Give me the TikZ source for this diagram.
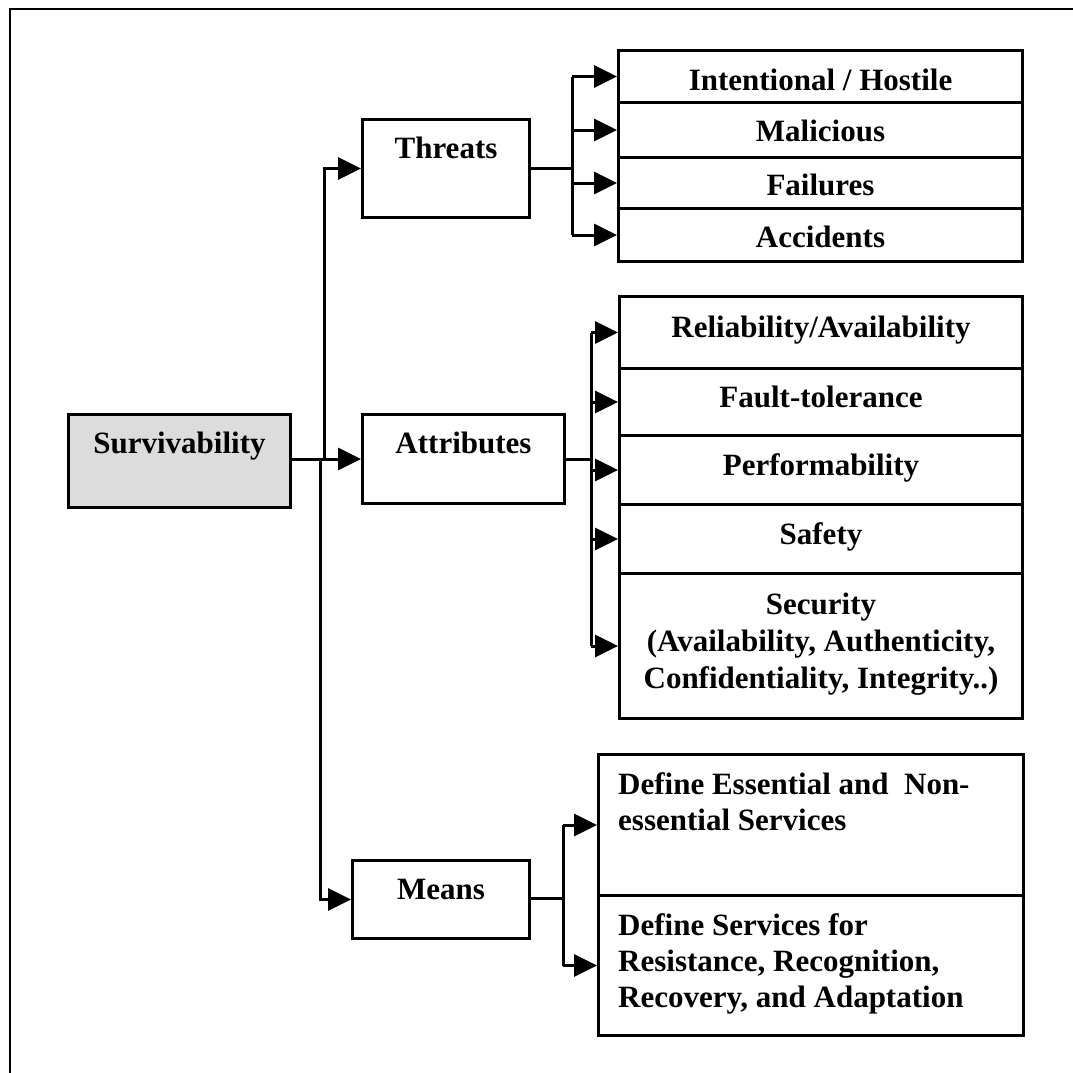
\documentclass[tikz,border=0pt]{standalone}
\usepackage{fontspec}
\setmainfont{Liberation Serif}
\usetikzlibrary{arrows.meta,calc}
\definecolor{rootfill}{RGB}{220,220,220}
\begin{document}
\begin{tikzpicture}[x=1pt,y=-1pt,
  box/.style={draw=black, line width=3pt, inner sep=0pt, anchor=north west},
  lbl/.style={inner sep=0pt, anchor=base, align=center,
    font=\fontsize{31}{37}\selectfont\bfseries},
  lblleft/.style={inner sep=0pt, anchor=base west, align=left,
    font=\fontsize{31}{36}\selectfont\bfseries},
  link/.style={line width=3pt},
  arr/.style={line width=3pt, -{Triangle[length=23pt,width=22pt]}},
]
\useasboundingbox (0,0) rectangle (1072,1073);

% frame (only top and left edges fall inside the page)
\draw[line width=2pt] (9.5,1080) -- (9.5,9.5) -- (1080,9.5);

% root and first level
\node[box, fill=rootfill, minimum width=222pt, minimum height=93pt] (surv) at (67,413) {};
\node[lbl] (survT) at ($(surv.north)+(0,40)$) {Survivability};

\node[box, minimum width=167pt, minimum height=98pt] (threats) at (361,118) {};
\node[lbl] (threatsT) at ($(threats.north)+(0,40)$) {Threats};

\node[box, minimum width=202pt, minimum height=89pt] (attrs) at (361,413) {};
\node[lbl] (attrsT) at ($(attrs.north)+(0,40)$) {Attributes};

\node[box, minimum width=177pt, minimum height=78pt] (means) at (351,859) {};
\node[lbl] (meansT) at ($(means.north)+(0,40)$) {Means};

% threats
\node[box, minimum width=404pt, minimum height=52pt] (t1) at (617,49) {};
\node[box, minimum width=404pt, minimum height=55pt] (t2) at (617,101) {};
\node[box, minimum width=404pt, minimum height=51pt] (t3) at (617,156) {};
\node[box, minimum width=404pt, minimum height=53pt] (t4) at (617,207) {};
\node[lbl] (t1T) at ($(t1.north)+(0,41)$) {Intentional / Hostile};
\node[lbl] (t2T) at ($(t2.north)+(0,40)$) {Malicious};
\node[lbl] (t3T) at ($(t3.north)+(0,39)$) {Failures};
\node[lbl] (t4T) at ($(t4.north)+(0,40)$) {Accidents};

% attributes
\node[box, minimum width=403pt, minimum height=72pt] (a1) at (618,295) {};
\node[box, minimum width=403pt, minimum height=67pt] (a2) at (618,367) {};
\node[box, minimum width=403pt, minimum height=69pt] (a3) at (618,434) {};
\node[box, minimum width=403pt, minimum height=69pt] (a4) at (618,503) {};
\node[box, minimum width=403pt, minimum height=145pt] (a5) at (618,572) {};
\node[lbl] (a1T) at ($(a1.north)+(0,42)$) {Reliability/Availability};
\node[lbl] (a2T) at ($(a2.north)+(0,40)$) {Fault-tolerance};
\node[lbl] (a3T) at ($(a3.north)+(0,41)$) {Performability};
\node[lbl] (a4T) at ($(a4.north)+(0,41)$) {Safety};
% multi-line labels sit on the baseline of their last line
\node[lbl] (a5T) at ($(a5.north)+(0,116)$) {Security\\(Availability, Authenticity,\\Confidentiality, Integrity..)};

% means
\node[box, minimum width=425pt, minimum height=141pt] (m1) at (597,753) {};
\node[box, minimum width=425pt, minimum height=140pt] (m2) at (597,894) {};
\node[lblleft] (m1T) at ($(m1.north west)+(21,77)$) {Define Essential and\ \ Non-\\essential Services};
\node[lblleft] (m2T) at ($(m2.north west)+(21,113)$) {Define Services for\\Resistance, Recognition,\\Recovery, and Adaptation};

% root connectors
\coordinate (j0) at (324,459);
\coordinate (j0low) at (320,459);
\draw[link] (surv.east |- j0) -- (j0);
\draw[arr] (j0) -- (attrs.west |- j0);
\draw[arr] (j0) |- (threats.west);
\draw[arr] (j0low) |- (means.west);

% threat connectors
\coordinate (jt) at (572,168);
\draw[link] (threats.east |- jt) -- (jt);
\draw[link] (jt |- t1.west) -- (jt |- t4.west);
\foreach \n in {t1,t2,t3,t4} \draw[arr] (jt |- \n.west) -- (\n.west);

% attribute connectors
\coordinate (ja) at (591,459);
\draw[link] (attrs.east |- ja) -- (ja);
\draw[link] (ja |- a1.west) -- (ja |- a5.west);
\foreach \n in {a1,a2,a3,a4,a5} \draw[arr] (ja |- \n.west) -- (\n.west);

% means connectors
\coordinate (jm) at (563,898);
\draw[link] (means.east |- jm) -- (jm);
\draw[link] (jm |- m1.west) -- (jm |- m2.west);
\foreach \n in {m1,m2} \draw[arr] (jm |- \n.west) -- (\n.west);
\end{tikzpicture}
\end{document}
